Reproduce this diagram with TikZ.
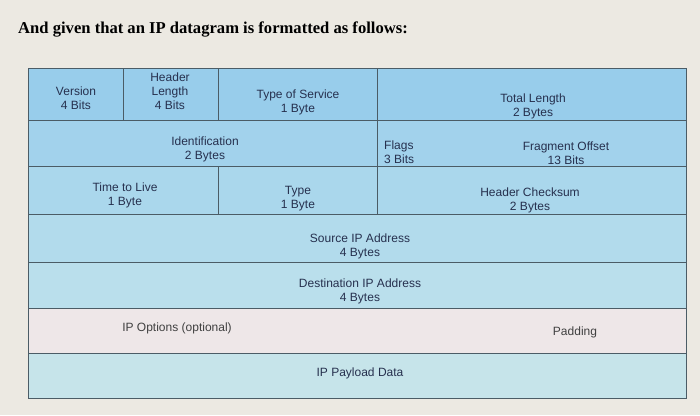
\documentclass[tikz,border=0pt]{standalone}
\usepackage{fontspec}
\setmainfont{Liberation Serif}
\setsansfont{Liberation Sans}
\usetikzlibrary{positioning}
\definecolor{paper}{RGB}{236,233,226}
\definecolor{rowA}{RGB}{152,205,235}
\definecolor{rowB}{RGB}{162,210,236}
\definecolor{rowC}{RGB}{170,215,236}
\definecolor{rowD}{RGB}{178,219,236}
\definecolor{rowE}{RGB}{186,223,236}
\definecolor{rowF}{RGB}{238,231,232}
\definecolor{rowG}{RGB}{198,228,234}
\definecolor{rule}{RGB}{75,92,102}
\definecolor{ink}{RGB}{38,48,78}
\begin{document}
\begin{tikzpicture}[x=1pt,y=-1pt]
\tikzstyle{field}=[align=center,inner sep=0pt,text=ink,font=\sffamily\fontsize{12}{14}\selectfont]
\tikzstyle{cell}=[draw=rule,line width=0.8pt]
\useasboundingbox (0,0) rectangle (700,415);
\fill[paper] (0,0) rectangle (700,415);
\node[anchor=base west,inner sep=0pt,font=\bfseries\fontsize{16.6}{18}\selectfont] (title) at (18,33) {And given that an IP datagram is formatted as follows:};
% rows
\filldraw[cell,fill=rowA] (28,68) rectangle (686,120);
\filldraw[cell,fill=rowB] (28,120) rectangle (686,166);
\filldraw[cell,fill=rowC] (28,166) rectangle (686,214);
\filldraw[cell,fill=rowD] (28,214) rectangle (686,262);
\filldraw[cell,fill=rowE] (28,262) rectangle (686,308);
\filldraw[cell,fill=rowF] (28,308) rectangle (686,353);
\filldraw[cell,fill=rowG] (28,353) rectangle (686,398);
% column rules
\draw[cell] (123,68) -- (123,120);
\draw[cell] (218,68) -- (218,120);
\draw[cell] (377,68) -- (377,214);
\draw[cell] (218,166) -- (218,214);
% fields
\node[field] (ver) at (76,98) {Version\\4 Bits};
\node[field] (hlen) at (170,91) {Header\\Length\\4 Bits};
\node[field] (tos) at (298,102) {Type of Service\\1 Byte};
\node[field] (tlen) at (533,106) {Total Length\\2 Bytes};
\node[field] (ident) at (205,149) {Identification\\2 Bytes};
\node[field,align=left,anchor=west] (flags) at (384,152) {Flags\\3 Bits};
\node[field] (frag) at (566,153) {Fragment Offset\\13 Bits};
\node[field] (ttl) at (125,195) {Time to Live\\1 Byte};
\node[field] (proto) at (298,199) {Type\\1 Byte};
\node[field] (csum) at (530,200) {Header Checksum\\2 Bytes};
\node[field] (src) at (360,246) {Source IP Address\\4 Bytes};
\node[field] (dst) at (360,291) {Destination IP Address\\4 Bytes};
\node[field,text=black!75] (opts) at (177,328) {IP Options (optional)};
\node[field,text=black!75] (pad) at (575,332) {Padding};
\node[field] (data) at (360,373) {IP Payload Data};
\end{tikzpicture}
\end{document}
